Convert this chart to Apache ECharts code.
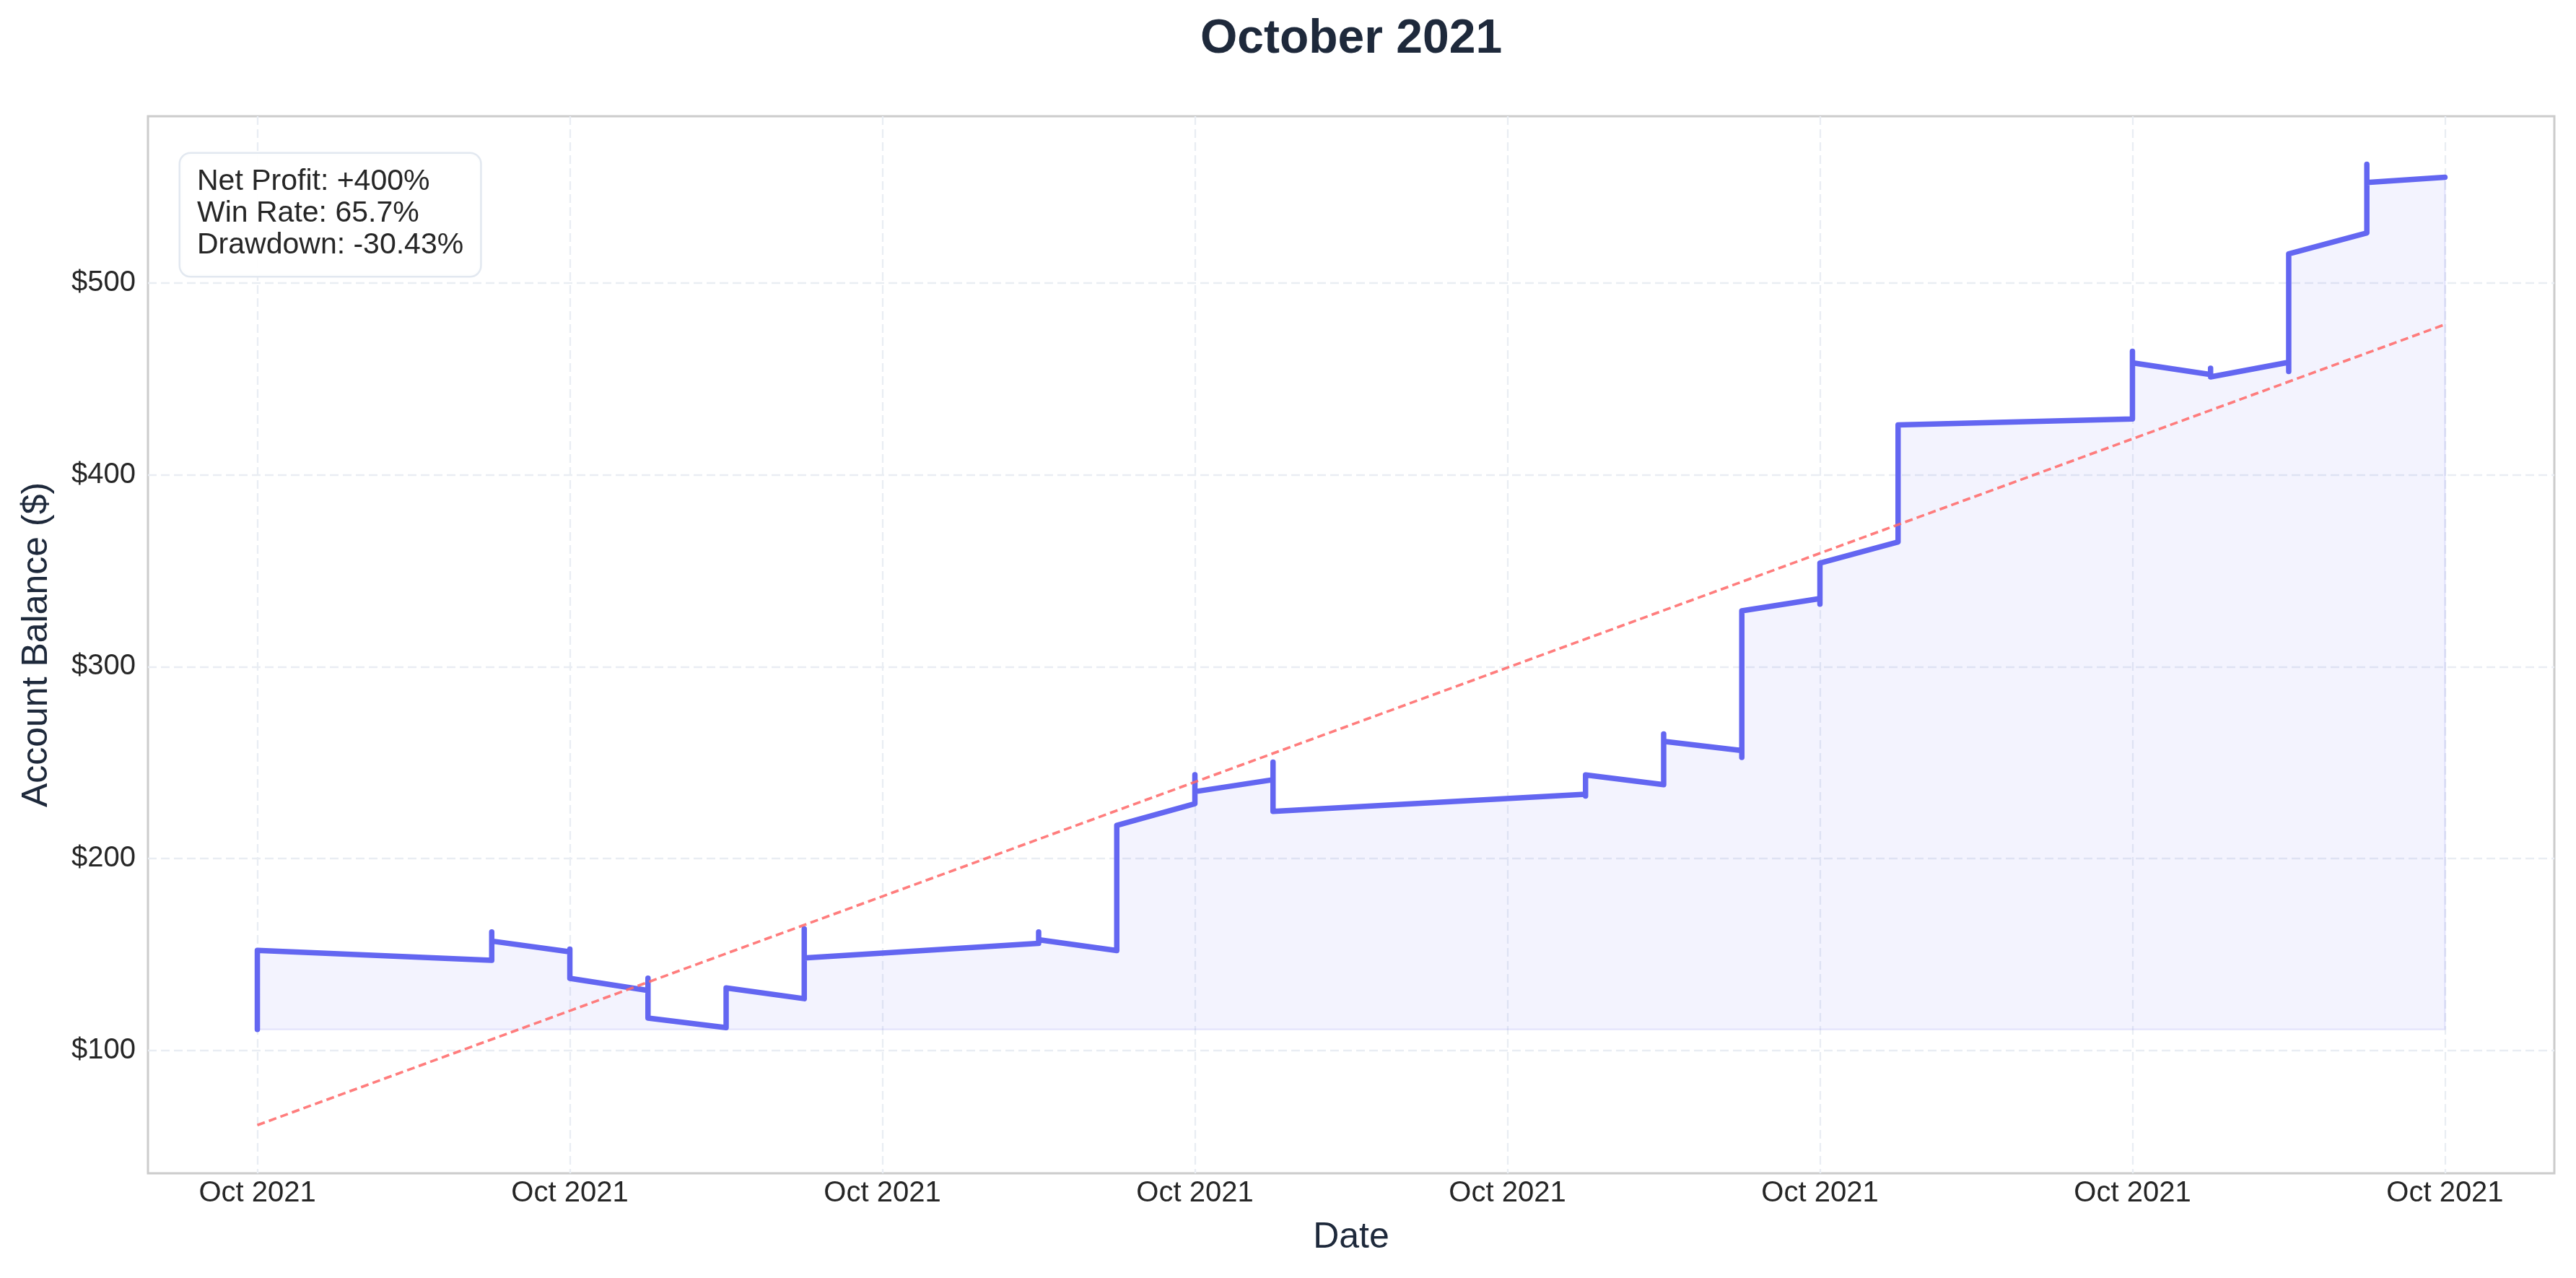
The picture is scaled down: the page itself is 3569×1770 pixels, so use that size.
<!DOCTYPE html>
<html><head><meta charset="utf-8">
<script src="https://cdn.jsdelivr.net/npm/echarts@6/dist/echarts.min.js"></script>
<style>html,body{margin:0;padding:0;background:#fff}#c{width:3569px;height:1770px}</style>
</head><body><div id="c"></div>
<script>
// ---- data (day offsets from Oct 1 2021; several trades may close on the same day) ----
const tradeDay = [0, 0, 3, 3, 3, 4, 4, 4, 5, 5, 5, 6, 6, 7, 7, 7, 10, 10, 10, 11, 11, 12, 12, 12, 13, 13, 13, 17, 17, 17, 18, 18, 18, 19, 19, 19, 20, 20, 20, 21, 21, 24, 24, 24, 25, 25, 25, 26, 26, 26, 27, 27, 27, 28];
const balance = [111, 152.2, 147.0, 161.8, 157.0, 151.4, 152.8, 137.6, 131.3, 137.7, 116.9, 111.9, 132.6, 127.0, 163.4, 148.2, 155.8, 161.8, 157.7, 152.1, 217.3, 228.6, 243.7, 234.9, 241.1, 250.3, 224.6, 233.5, 232.6, 243.6, 238.5, 264.9, 261.1, 256.3, 252.7, 329.1, 335.5, 332.6, 354.0, 365.0, 426.0, 429.1, 464.3, 458.3, 452.2, 455.5, 451.0, 458.6, 453.8, 515.1, 526.0, 561.8, 552.3, 555.0];
const startBalance = 111;
const trendDay = [0, 28];
const trendBalance = [61.1, 478.3];
const xTickDays = [0, 4, 8, 12, 16, 20, 24, 28];
const xTickLabels = ['Oct 2021', 'Oct 2021', 'Oct 2021', 'Oct 2021', 'Oct 2021', 'Oct 2021', 'Oct 2021', 'Oct 2021'];
const yTicks = [100, 200, 300, 400, 500];
const statLines = ['Net Profit: +400%', 'Win Rate: 65.7%', 'Drawdown: -30.43%'];
const titleText = 'October 2021';
const xTitle = 'Date';
const yTitle = 'Account Balance ($)';

const FONT = '"Liberation Sans", Arial, Helvetica, sans-serif';
const chart = echarts.init(document.getElementById('c'), null, {renderer: 'canvas', width: 3569, height: 1770});

const equity = tradeDay.map((d, i) => [d, balance[i]]);
const trend = trendDay.map((d, i) => [d, trendBalance[i]]);
const lastDay = tradeDay[tradeDay.length - 1];
const fillEdge = [[tradeDay[0], startBalance], [lastDay, startBalance], [lastDay, balance[balance.length - 1]]];

const gridLine = {show: true, lineStyle: {color: '#e9edf3', width: 2.3, type: [12, 6]}};

chart.setOption({
  animation: false,
  backgroundColor: '#ffffff',
  grid: {left: 205, top: 161, width: 3334, height: 1464, show: true, borderColor: '#cccccc', borderWidth: 3, backgroundColor: 'transparent', containLabel: false, outerBoundsMode: 'none'},
  xAxis: {
    type: 'value', min: -1.4, max: 29.4,
    axisLine: {show: false},
    axisTick: {show: false, customValues: xTickDays},
    axisLabel: {customValues: xTickDays, formatter: (v) => xTickLabels[xTickDays.indexOf(Math.round(v))] || '', color: '#262626', fontFamily: FONT, fontSize: 40, margin: 8},
    splitLine: gridLine
  },
  yAxis: {
    type: 'value', min: 36.0, max: 586.8,
    axisLine: {show: false},
    axisTick: {show: false, customValues: yTicks},
    axisLabel: {customValues: yTicks, formatter: (v) => '$' + Math.round(v), color: '#262626', fontFamily: FONT, fontSize: 40, margin: 17},
    splitLine: gridLine
  },
  series: [
    {
      name: 'fillEdge', type: 'line', data: fillEdge, showSymbol: false, silent: true, z: 1,
      lineStyle: {color: 'rgba(99,102,241,0.12)', width: 2.5}
    },
    {
      name: 'Equity', type: 'line', data: equity, showSymbol: false, z: 3,
      lineStyle: {color: '#6366f1', width: 7.5, cap: 'round', join: 'round'},
      areaStyle: {color: 'rgba(99,102,241,0.11)', origin: startBalance}
    },
    {
      name: 'Trend', type: 'line', data: trend, showSymbol: false, z: 4,
      lineStyle: {color: '#ff6b6b', opacity: 0.88, width: 3.6, type: [11, 6]}
    }
  ],
  graphic: [
    {type: 'text', x: 1872, y: 55, style: {text: titleText, font: 'bold 66px ' + FONT, fill: '#1e293b', textAlign: 'center', textVerticalAlign: 'middle'}},
    {type: 'text', x: 1872, y: 1714, style: {text: xTitle, font: '50px ' + FONT, fill: '#1e293b', textAlign: 'center', textVerticalAlign: 'middle'}},
    {type: 'text', x: 51, y: 893, rotation: Math.PI / 2, style: {text: yTitle, font: '50px ' + FONT, fill: '#1e293b', textAlign: 'center', textVerticalAlign: 'middle'}},
    {type: 'text', x: 250, y: 213, z: 10, style: {
      text: statLines.join('\n'), font: '41px ' + FONT, fill: '#262626', lineHeight: 44,
      textAlign: 'left', textVerticalAlign: 'top',
      backgroundColor: 'rgba(255,255,255,0.92)', borderColor: '#e2e8f0', borderWidth: 2.5, borderRadius: 14,
      padding: [17, 23, 20, 23]
    }}
  ]
});
</script>
</body></html>
